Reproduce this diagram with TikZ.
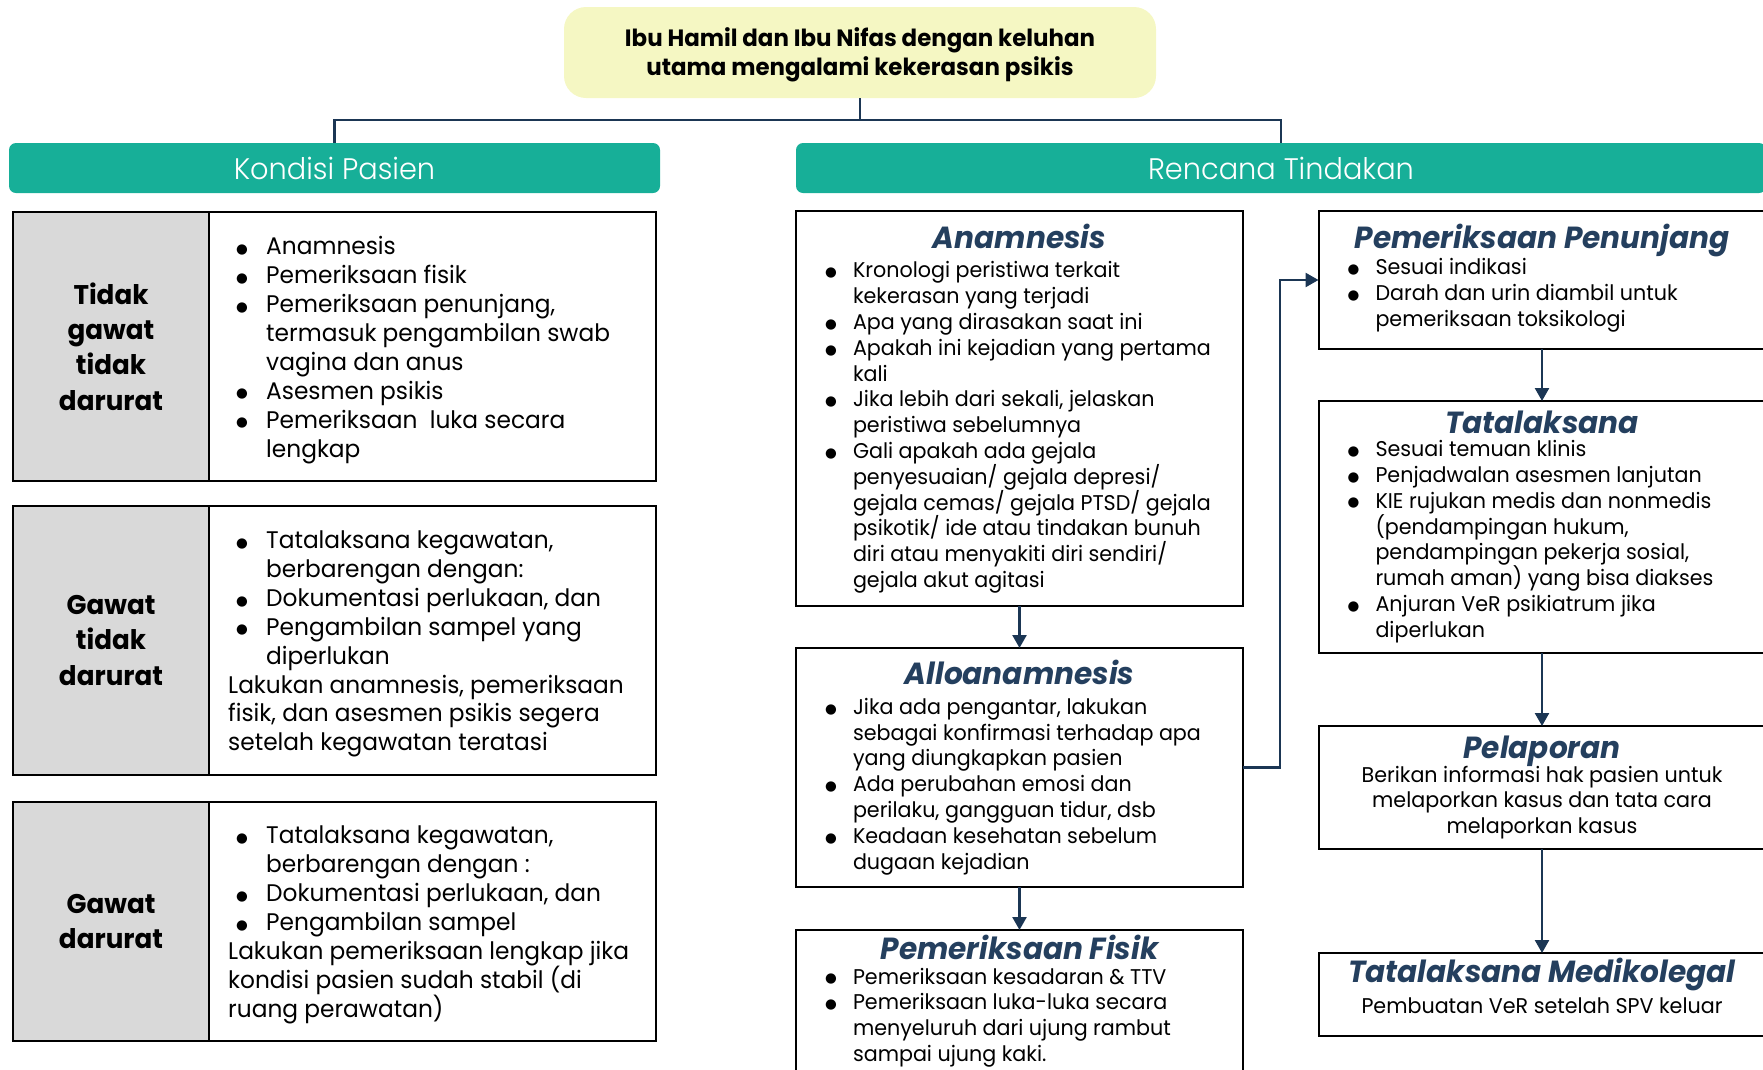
\documentclass[tikz,border=0pt]{standalone}
\usepackage{fontspec}
\setmainfont{Poppins}[FakeStretch=0.97]
\newfontfamily\lightfont{Poppins Light}[FakeStretch=0.97]
\newfontfamily\symfont{DejaVu Sans}
\usetikzlibrary{positioning,arrows.meta}

\definecolor{topyellow}{HTML}{F5F7C3}
\definecolor{hdteal}{HTML}{17AF98}
\definecolor{cellgray}{HTML}{D9D9D9}
\definecolor{navy}{HTML}{1B3654}
\definecolor{ttlblue}{HTML}{243F5E}

\setlength{\lineskiplimit}{-30pt}
\newcommand{\titlefont}{\color{ttlblue}\bfseries\itshape\fontsize{30.5}{34}\selectfont}
\newcommand{\ttl}[1]{\makebox[391pt]{\titlefont #1}}
\newcommand{\blt}{\raisebox{1.3pt}{\fontsize{13.5}{13.5}\symfont ●}}
\newcommand{\bu}{\hspace*{1pt}\makebox[28pt][l]{\blt}}
\newcommand{\ind}{\hspace*{29pt}}
\newcommand{\kb}{\hspace*{8pt}\makebox[30pt][l]{\blt}}
\newcommand{\kc}{\hspace*{38pt}}

\tikzset{
  topbox/.style={fill=topyellow, rounded corners=22pt, minimum width=592pt, minimum height=91pt,
    align=center, font=\bfseries\fontsize{23.6}{29}\selectfont},
  header/.style={fill=hdteal, rounded corners=7pt, minimum height=50pt, text=white,
    font=\lightfont\fontsize{29.7}{36}\selectfont},
  label/.style={draw=black, line width=2pt, outer sep=0pt, fill=cellgray, minimum width=196pt,
    align=center, font=\bfseries\fontsize{27}{35.2}\selectfont},
  cell/.style={draw=black, line width=2pt, outer sep=0pt, minimum width=447pt},
  celltext/.style={align=left, inner sep=0pt, yshift=-3.5pt, font=\fontsize{24}{28.9}\selectfont},
  plan/.style={draw=black, line width=2pt, outer sep=0pt, minimum width=447pt, inner sep=0pt,
    align=left, font=\fontsize{21.3}{25.8}\selectfont},
  link/.style={draw=navy, line width=2.5pt},
  arr/.style={link, -{Triangle[width=14pt,length=13pt]}},
}

\begin{document}
\begin{tikzpicture}[x=1pt,y=-1pt]
\clip (0,0) rectangle (1763,1069);

\node[topbox] (top) at (860,52.5) {\rule{0pt}{23pt}Ibu Hamil dan Ibu Nifas dengan keluhan\\utama mengalami kekerasan psikis};
\node[header, minimum width=651pt] (kondisi) at (334.5,168) {Kondisi Pasien};
\node[header, minimum width=970pt] (rencana) at (1281,168) {Rencana Tindakan};
\draw[link] (top.south) -- ++(0,22) coordinate (split) -| (kondisi.north);
\draw[link] (split) -| (rencana.north);

% kondisi pasien
\node[label, minimum height=269pt] (lab1) at (111,346.5) {Tidak\\gawat\\tidak\\darurat};
\node[cell, minimum height=269pt, right=0pt of lab1] (cell1) {};
\node[celltext, right=19pt of cell1.west] (txt1) {%
  \kb Anamnesis\\
  \kb Pemeriksaan fisik\\
  \kb Pemeriksaan penunjang,\\
  \kc termasuk pengambilan swab\\
  \kc vagina dan anus\\
  \kb Asesmen psikis\\
  \kb Pemeriksaan\ \ luka secara\\
  \kc lengkap};

\node[label, minimum height=269pt] (lab2) at (111,640.5) {Gawat\\tidak\\darurat};
\node[cell, minimum height=269pt, right=0pt of lab2] (cell2) {};
\node[celltext, right=19pt of cell2.west] (txt2) {%
  \kb Tatalaksana kegawatan,\\
  \kc berbarengan dengan:\\
  \kb Dokumentasi perlukaan, dan\\
  \kb Pengambilan sampel yang\\
  \kc diperlukan\\
  Lakukan anamnesis, pemeriksaan\\
  fisik, dan asesmen psikis segera\\
  setelah kegawatan teratasi};

\node[label, minimum height=239pt] (lab3) at (111,921.5) {Gawat\\darurat};
\node[cell, minimum height=239pt, right=0pt of lab3] (cell3) {};
\node[celltext, right=19pt of cell3.west] (txt3) {%
  \kb Tatalaksana kegawatan,\\
  \kc berbarengan dengan :\\
  \kb Dokumentasi perlukaan, dan\\
  \kb Pengambilan sampel\\
  Lakukan pemeriksaan lengkap jika\\
  kondisi pasien sudah stabil (di\\
  ruang perawatan)};

% rencana tindakan
\node[plan, minimum height=395pt] (anam) at (1019.5,408.5) {%
  \ttl{Anamnesis}\\[4pt]
  \bu Kronologi peristiwa terkait\\
  \ind kekerasan yang terjadi\\
  \bu Apa yang dirasakan saat ini\\
  \bu Apakah ini kejadian yang pertama\\
  \ind kali\\
  \bu Jika lebih dari sekali, jelaskan\\
  \ind peristiwa sebelumnya\\
  \bu Gali apakah ada gejala\\
  \ind penyesuaian/ gejala depresi/\\
  \ind gejala cemas/ gejala PTSD/ gejala\\
  \ind psikotik/ ide atau tindakan bunuh\\
  \ind diri atau menyakiti diri sendiri/\\
  \ind gejala akut agitasi};

\node[plan, minimum height=239pt] (allo) at (1019.5,767.5) {%
  \ttl{Alloanamnesis}\\[4pt]
  \bu Jika ada pengantar, lakukan\\
  \ind sebagai konfirmasi terhadap apa\\
  \ind yang diungkapkan pasien\\
  \bu Ada perubahan emosi dan\\
  \ind perilaku, gangguan tidur, dsb\\
  \bu Keadaan kesehatan sebelum\\
  \ind dugaan kejadian};

\node[plan, minimum height=142pt] (fisik) at (1019.5,1001) {%
  \ttl{Pemeriksaan Fisik}\\[-1pt]
  \bu Pemeriksaan kesadaran \& TTV\\
  \bu Pemeriksaan luka-luka secara\\
  \ind menyeluruh dari ujung rambut\\
  \ind sampai ujung kaki.};

\node[plan, minimum height=138pt] (penunjang) at (1542,280) {%
  \ttl{Pemeriksaan Penunjang}\\[1pt]
  \bu Sesuai indikasi\\
  \bu Darah dan urin diambil untuk\\
  \ind pemeriksaan toksikologi\rule[-10pt]{0pt}{10pt}};

\node[plan, minimum height=252pt] (tata) at (1542,527) {%
  \ttl{Tatalaksana}\\[-3pt]
  \bu Sesuai temuan klinis\\
  \bu Penjadwalan asesmen lanjutan\\
  \bu KIE rujukan medis dan nonmedis\\
  \ind (pendampingan hukum,\\
  \ind pendampingan pekerja sosial,\\
  \ind rumah aman) yang bisa diakses\\
  \bu Anjuran VeR psikiatrum jika\\
  \ind diperlukan};

\node[plan, align=center, minimum height=123pt] (lapor) at (1542,787.5) {%
  \ttl{Pelaporan}\\[-2pt]
  Berikan informasi hak pasien untuk\\
  melaporkan kasus dan tata cara\\
  melaporkan kasus};

\node[plan, align=center, minimum height=83pt] (medikolegal) at (1542,994.5) {%
  \ttl{Tatalaksana Medikolegal}\\[5pt]
  Pembuatan VeR setelah SPV keluar\rule[-17pt]{0pt}{17pt}};

\draw[arr] (anam) -- (allo);
\draw[arr] (allo) -- (fisik);
\draw[arr] (allo.east) -- ++(37,0) |- (penunjang.west);
\draw[arr] (penunjang) -- (tata);
\draw[arr] (tata) -- (lapor);
\draw[arr] (lapor) -- (medikolegal);
\end{tikzpicture}
\end{document}
